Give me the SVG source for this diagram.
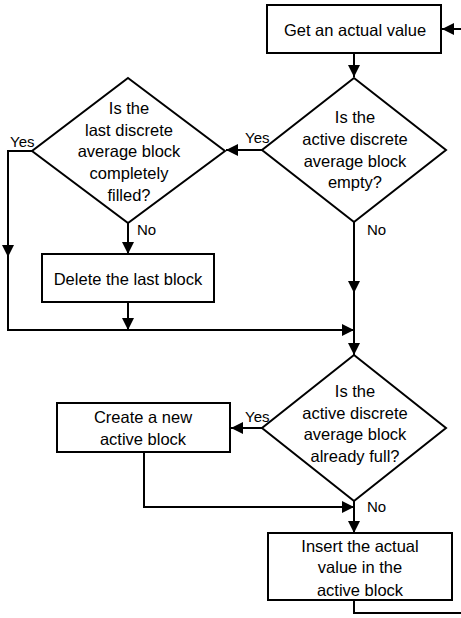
<svg xmlns="http://www.w3.org/2000/svg" width="461" height="618" viewBox="0 0 461 618">
<style>
.shape{fill:#fff;stroke:#000;stroke-width:2}
.t{font-family:"Liberation Sans",Arial,sans-serif;font-size:16.5px;fill:#000;text-anchor:middle}
.lbl{font-family:"Liberation Sans",Arial,sans-serif;font-size:15px;fill:#000}
.c{fill:none;stroke:#000;stroke-width:2}
</style>
<defs>
<marker id="ah" markerUnits="userSpaceOnUse" markerWidth="13" markerHeight="12" refX="12" refY="6" orient="auto">
<path d="M0,0 L12,6 L0,12 z" fill="#000"/>
</marker>
</defs>
<rect width="461" height="618" fill="#fff"/>
<g id="connectors">
<path class="c" d="M461,29 H442" marker-end="url(#ah)"/>
<path class="c" d="M354,53 V77" marker-end="url(#ah)"/>
<path class="c" d="M262,150 H226" marker-end="url(#ah)"/>
<path class="c" d="M32,151 H8 V257" marker-end="url(#ah)"/>
<path class="c" d="M8,256 V330 H354" marker-end="url(#ah)"/>
<path class="c" d="M128,223 V254" marker-end="url(#ah)"/>
<path class="c" d="M128,302 V330" marker-end="url(#ah)"/>
<path class="c" d="M354,222 V293" marker-end="url(#ah)"/>
<path class="c" d="M354,292 V355" marker-end="url(#ah)"/>
<path class="c" d="M262,428 H231" marker-end="url(#ah)"/>
<path class="c" d="M144,452 V507 H354" marker-end="url(#ah)"/>
<path class="c" d="M354,501 V533" marker-end="url(#ah)"/>
<path class="c" d="M354,600 V613 H461"/>
<text class="lbl" x="245" y="143">Yes</text>
<text class="lbl" x="10" y="147">Yes</text>
<text class="lbl" x="137" y="235">No</text>
<text class="lbl" x="367" y="235">No</text>
<text class="lbl" x="245" y="422">Yes</text>
<text class="lbl" x="367" y="512">No</text>
</g>
<g id="get-value">
<rect class="shape" x="267" y="5" width="174" height="48"/>
<text class="t" x="355" y="36">Get an actual value</text>
</g>
<g id="active-empty">
<polygon class="shape" points="354,78 446,150 354,222 262,150"/>
<text class="t" x="355" y="123">Is the</text>
<text class="t" x="355" y="145">active discrete</text>
<text class="t" x="355" y="167">average block</text>
<text class="t" x="355" y="188">empty?</text>
</g>
<g id="last-filled">
<polygon class="shape" points="128,78 225,151 128,223 32,151"/>
<text class="t" x="129" y="114">Is the</text>
<text class="t" x="129" y="136">last discrete</text>
<text class="t" x="129" y="157">average block</text>
<text class="t" x="129" y="179">completely</text>
<text class="t" x="129" y="201">filled?</text>
</g>
<g id="delete-last">
<rect class="shape" x="42" y="254" width="172" height="48"/>
<text class="t" x="128" y="285">Delete the last block</text>
</g>
<g id="active-full">
<polygon class="shape" points="354,355 446,428 354,501 262,428"/>
<text class="t" x="355" y="397">Is the</text>
<text class="t" x="355" y="419">active discrete</text>
<text class="t" x="355" y="440">average block</text>
<text class="t" x="355" y="462">already full?</text>
</g>
<g id="create-new">
<rect class="shape" x="57" y="403" width="173" height="49"/>
<text class="t" x="143" y="423">Create a new</text>
<text class="t" x="143" y="445">active block</text>
</g>
<g id="insert-value">
<rect class="shape" x="268" y="533" width="184" height="67"/>
<text class="t" x="360" y="552">Insert the actual</text>
<text class="t" x="360" y="573">value in the</text>
<text class="t" x="360" y="596">active block</text>
</g>
</svg>
